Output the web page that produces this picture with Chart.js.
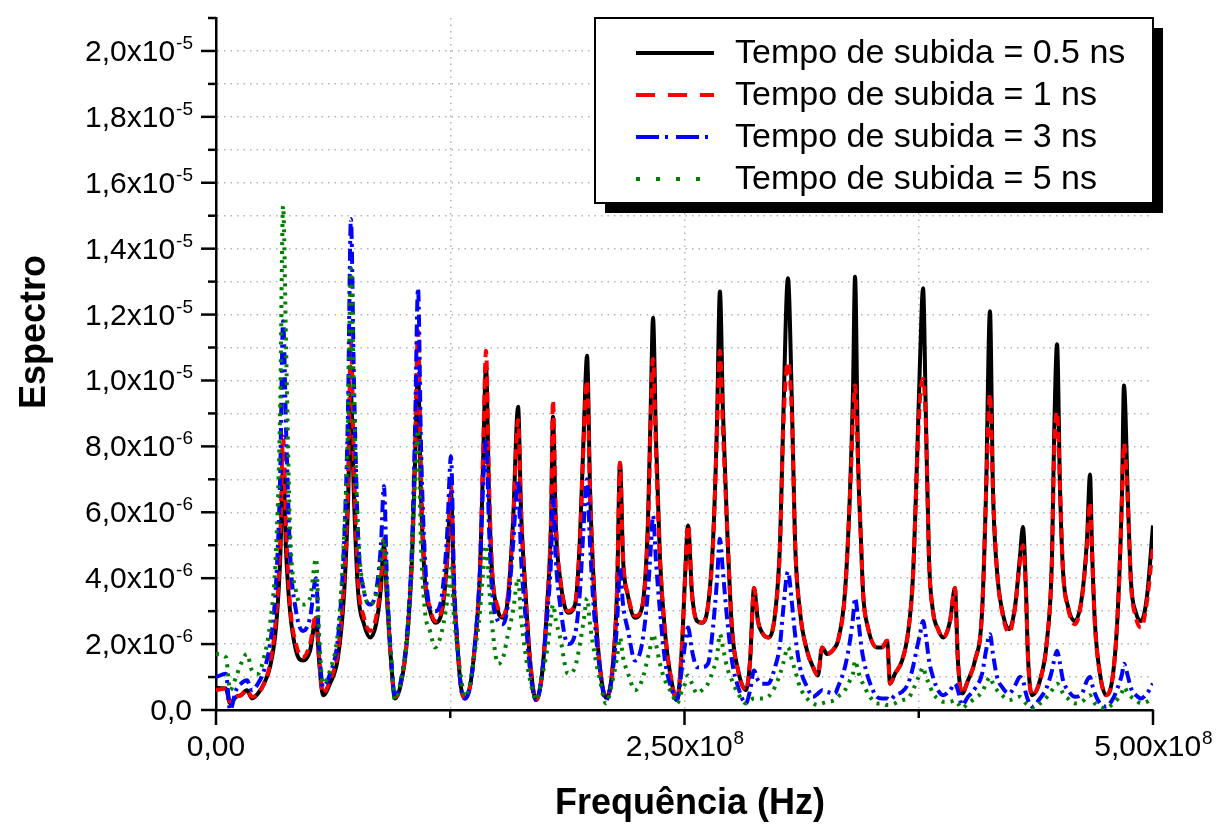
<!DOCTYPE html>
<html>
<head>
<meta charset="utf-8">
<script src="https://cdn.jsdelivr.net/npm/chart.js@4.4.1/dist/chart.umd.min.js"></script>
<style>
  html, body { margin: 0; padding: 0; background: #fff; }
</style>
</head>
<body>
<canvas id="spectrum" width="1218" height="827"></canvas>
<script>
// frequency in MHz, spectrum values in units of 1e-6
var freqMHz = [
  0, 5.3, 7.5, 10.7, 13.3, 16.5, 19.2, 22.4, 25.6, 28.8,
  32.0, 34.2, 35.8, 37.4, 39.5, 42.7, 46.4, 50.2, 53.4, 55.0,
  57.1, 60.8, 65.1, 68.3, 70.4, 72.0, 73.6, 75.8, 79.0, 82.2,
  85.4, 88.0, 89.6, 91.2, 93.4, 95.5, 98.7, 101.9, 104.6, 106.2,
  107.8, 109.4, 111.5, 114.2, 116.9, 120.6, 123.3, 125.4, 127.0, 128.6,
  130.7, 132.9, 135.5, 138.2, 140.9, 142.5, 144.1, 145.7, 147.3, 150.5,
  153.2, 155.8, 158.5, 161.2, 162.8, 164.9, 167.6, 170.8, 174.0, 176.6,
  178.8, 179.8, 181.4, 183.6, 187.8, 191.6, 194.2, 196.4, 198.0, 199.6,
  201.7, 204.9, 208.1, 211.3, 214.0, 215.6, 217.2, 219.9, 223.6, 227.3,
  230.5, 232.1, 233.2, 234.8, 236.9, 239.6, 243.3, 246.0, 248.7, 250.3,
  251.9, 254.0, 256.7, 259.3, 262.5, 265.2, 267.3, 268.9, 270.5, 272.7,
  275.3, 278.6, 282.8, 285.0, 287.1, 289.2, 291.4, 294.6, 298.3, 301.0,
  302.6, 305.2, 307.4, 309.0, 311.6, 315.4, 318.6, 321.2, 323.4, 326.0,
  330.3, 331.9, 335.6, 338.3, 339.9, 341.0, 342.6, 344.2, 345.3, 347.9,
  352.7, 355.4, 358.1, 359.7, 362.3, 366.1, 369.3, 371.9, 374.1, 375.7,
  377.3, 378.9, 380.5, 382.6, 385.3, 388.0, 391.7, 394.3, 395.9, 398.1,
  401.3, 405.0, 408.8, 410.9, 413.0, 414.6, 416.8, 419.4, 423.2, 426.4,
  429.0, 430.6, 432.2, 433.3, 435.4, 439.7, 443.4, 446.1, 447.2, 448.8,
  450.4, 452.0, 454.6, 458.4, 462.1, 464.8, 466.4, 467.4, 469.0, 471.7,
  474.9, 478.7, 481.3, 483.5, 484.5, 486.7, 488.3, 490.9, 493.6, 496.8,
  500.0
];

var rise05 = [
  0.67, 0.65, 0.2, 0.4, 0.45, 0.6, 0.35, 0.5, 0.8, 1.3,
  2.5, 4.5, 7.3, 4.8, 3.0, 1.8, 1.5, 1.8, 2.8, 1.5,
  0.45, 0.8, 1.6, 3.5, 6.2, 9.6, 6.5, 3.6, 2.6, 2.2,
  2.6, 3.7, 5.0, 3.4, 1.5, 0.35, 0.8, 2.1, 4.6, 7.5,
  10.2, 6.5, 3.9, 3.0, 2.65, 3.0, 4.5, 6.6, 3.6, 2.1,
  0.7, 0.35, 0.7, 2.0, 4.2, 7.5, 10.4, 6.5, 4.2, 3.0,
  2.8, 3.4, 5.7, 9.2, 6.0, 3.8, 1.5, 0.3, 1.1, 3.1,
  5.7, 8.9, 5.5, 4.0, 2.95, 3.2, 5.2, 8.7, 10.75, 6.7,
  3.7, 1.3, 0.37, 1.1, 3.6, 7.5, 4.6, 3.45, 2.8, 3.1,
  5.7, 9.5, 11.9, 8.2, 4.6, 2.35, 0.8, 0.3, 2.0, 4.05,
  5.6, 3.55, 2.7, 2.65, 3.15, 5.1, 8.6, 12.7, 9.1, 5.6,
  2.5, 1.2, 0.6, 1.5, 3.7, 2.7, 2.35, 2.2, 2.9, 5.1,
  8.6, 13.1, 9.1, 5.1, 3.0, 1.8, 1.3, 1.05, 1.9, 1.7,
  1.9, 2.1, 3.55, 6.6, 9.65, 13.15, 7.6, 5.1, 3.55, 2.5,
  1.9, 1.9, 2.1, 0.8, 1.1, 1.5, 2.35, 4.05, 7.6, 10.65,
  12.8, 8.6, 4.55, 3.0, 2.45, 2.2, 2.7, 3.7, 1.5, 0.5,
  0.9, 1.5, 3.0, 6.6, 12.1, 6.7, 4.2, 3.05, 2.45, 3.15,
  4.65, 5.55, 3.65, 1.6, 0.45, 0.9, 2.1, 4.65, 8.2, 11.1,
  6.7, 4.2, 3.15, 2.7, 3.45, 5.2, 7.15, 5.0, 2.65, 1.1,
  0.45, 1.1, 3.1, 6.7, 9.85, 6.2, 3.85, 2.95, 2.7, 3.45,
  5.6
];

var rise1 = [
  0.6, 0.65, 0.25, 0.4, 0.45, 0.6, 0.4, 0.5, 0.8, 1.4,
  2.8, 5.0, 8.3, 5.5, 3.2, 2.0, 1.6, 2.0, 2.9, 1.6,
  0.5, 0.9, 1.8, 3.9, 6.8, 11.2, 7.5, 4.0, 2.8, 2.4,
  2.8, 3.9, 5.2, 3.5, 1.5, 0.4, 0.85, 2.2, 4.8, 8.0,
  11.5, 7.2, 4.1, 3.1, 2.7, 3.1, 4.6, 6.8, 3.7, 2.2,
  0.7, 0.35, 0.7, 2.0, 4.3, 7.8, 10.9, 6.9, 4.3, 3.1,
  2.85, 3.5, 5.6, 8.8, 6.0, 3.8, 1.5, 0.3, 1.1, 3.1,
  5.9, 9.4, 5.7, 4.0, 3.0, 3.2, 5.1, 8.5, 10.0, 6.6,
  3.7, 1.3, 0.4, 1.1, 3.6, 7.5, 4.6, 3.5, 2.85, 3.1,
  5.5, 9.0, 10.65, 7.8, 4.6, 2.4, 0.8, 0.3, 2.0, 4.0,
  5.6, 3.5, 2.7, 2.65, 3.15, 5.0, 8.4, 10.9, 8.5, 5.6,
  2.5, 1.2, 0.6, 1.5, 3.7, 2.7, 2.35, 2.2, 2.9, 5.0,
  8.4, 10.55, 8.8, 5.1, 3.0, 1.8, 1.3, 1.05, 1.9, 1.7,
  1.9, 2.1, 3.5, 6.5, 8.8, 9.85, 7.5, 5.1, 3.55, 2.5,
  1.9, 1.9, 2.1, 0.8, 1.1, 1.5, 2.35, 4.0, 7.5, 9.5,
  10.05, 8.5, 4.5, 3.0, 2.45, 2.2, 2.7, 3.7, 1.5, 0.5,
  0.9, 1.5, 3.0, 6.5, 9.6, 6.7, 4.2, 3.0, 2.35, 3.1,
  4.5, 5.0, 3.6, 1.6, 0.45, 0.9, 2.1, 4.6, 7.8, 9.05,
  6.7, 4.2, 3.1, 2.6, 3.4, 5.0, 6.3, 4.9, 2.6, 1.1,
  0.45, 1.1, 3.1, 6.5, 8.1, 6.1, 3.8, 2.8, 2.5, 3.3,
  5.0
];

var rise3 = [
  1.0, 1.1, 0.0, 0.6, 0.8, 0.9, 0.6, 0.8, 1.2, 2.0,
  3.8, 7.0, 11.8, 8.5, 4.8, 3.0, 2.4, 2.8, 4.0, 2.0,
  0.7, 1.1, 2.2, 5.0, 9.0, 14.9, 10.0, 5.3, 3.6, 3.2,
  3.6, 5.0, 6.8, 4.0, 1.6, 0.4, 0.9, 2.3, 5.0, 8.5,
  12.8, 8.0, 4.6, 3.1, 3.0, 3.5, 5.3, 7.7, 4.0, 2.2,
  0.7, 0.35, 0.7, 2.0, 4.3, 6.8, 8.2, 5.5, 3.6, 2.7,
  2.6, 3.2, 5.0, 7.0, 4.6, 3.0, 1.2, 0.3, 1.1, 2.8,
  4.6, 6.5, 4.5, 3.2, 2.0, 2.3, 3.6, 5.8, 7.0, 5.0,
  3.0, 1.2, 0.3, 1.0, 2.6, 4.3, 3.2, 2.4, 1.5, 2.0,
  3.6, 5.0, 5.9, 4.5, 3.0, 1.5, 0.6, 0.3, 1.3, 2.0,
  2.5, 1.8, 1.3, 1.3, 1.4, 2.5, 3.9, 5.2, 4.2, 2.8,
  1.5, 0.7, 0.2, 0.6, 1.2, 0.9, 0.8, 0.8, 1.3, 2.0,
  3.0, 4.2, 3.2, 2.3, 1.3, 0.7, 0.4, 0.5, 0.6, 0.55,
  0.5, 0.7, 1.3, 2.1, 2.8, 3.4, 2.8, 2.0, 1.6, 1.0,
  0.4, 0.35, 0.35, 0.3, 0.45, 0.55, 0.8, 1.3, 1.9, 2.3,
  2.7, 2.2, 1.5, 1.0, 0.6, 0.45, 0.6, 0.8, 0.6, 0.15,
  0.4, 0.65, 1.1, 1.8, 2.3, 1.7, 1.0, 0.7, 0.5, 0.75,
  1.0, 0.9, 0.5, 0.3, 0.1, 0.35, 0.7, 1.2, 1.5, 1.8,
  1.4, 0.9, 0.6, 0.4, 0.5, 0.9, 1.0, 0.8, 0.5, 0.2,
  0.1, 0.35, 0.7, 1.1, 1.4, 1.0, 0.65, 0.45, 0.35, 0.5,
  0.8
];

var rise5 = [
  1.7, 1.6, 0.6, 1.0, 1.4, 1.7, 1.2, 1.1, 1.6, 2.6,
  4.8, 9.0, 15.3, 11.0, 5.5, 3.6, 3.2, 3.4, 4.6, 2.3,
  0.8, 1.2, 2.4, 5.2, 8.5, 13.4, 9.5, 5.4, 3.6, 3.2,
  3.5, 4.5, 5.2, 3.6, 1.6, 0.3, 0.9, 2.1, 4.5, 7.0,
  8.5, 5.0, 3.0, 2.4, 1.9, 2.4, 3.3, 4.3, 2.8, 2.0,
  1.0, 0.4, 0.8, 1.8, 3.0, 4.2, 5.0, 3.8, 2.6, 1.4,
  1.6, 2.3, 3.0, 4.0, 2.8, 1.8, 0.9, 0.3, 1.0, 1.8,
  2.8, 3.2, 2.7, 2.2, 1.1, 1.3, 2.0, 2.8, 3.4, 2.6,
  1.8, 0.9, 0.2, 0.8, 1.6, 2.2, 1.6, 1.1, 0.6, 0.9,
  1.6, 2.0, 2.3, 2.0, 1.4, 0.9, 0.5, 0.2, 0.6, 0.8,
  1.05, 0.8, 0.5, 0.6, 0.8, 1.2, 1.6, 2.3, 1.9, 1.3,
  0.9, 0.5, 0.2, 0.3, 0.35, 0.35, 0.35, 0.4, 0.7, 1.1,
  1.4, 1.9, 1.5, 1.2, 0.7, 0.35, 0.2, 0.15, 0.2, 0.25,
  0.3, 0.4, 0.6, 0.9, 1.1, 1.5, 1.2, 0.9, 0.8, 0.5,
  0.2, 0.2, 0.15, 0.15, 0.2, 0.3, 0.35, 0.6, 0.9, 1.1,
  1.3, 1.0, 0.8, 0.5, 0.35, 0.25, 0.25, 0.3, 0.2, 0.05,
  0.2, 0.35, 0.55, 0.8, 1.0, 0.8, 0.6, 0.45, 0.3, 0.35,
  0.4, 0.3, 0.2, 0.15, 0.05, 0.2, 0.4, 0.6, 0.7, 0.8,
  0.7, 0.5, 0.35, 0.2, 0.25, 0.4, 0.45, 0.35, 0.2, 0.1,
  0.05, 0.2, 0.35, 0.55, 0.7, 0.5, 0.4, 0.3, 0.2, 0.25,
  0.35
];

var seriesNames = [
  "Tempo de subida = 0.5 ns",
  "Tempo de subida = 1 ns",
  "Tempo de subida = 3 ns",
  "Tempo de subida = 5 ns"
];

var xTicksMHz = [0, 125, 250, 375, 500];
var yMaxMicro = 21;

var FONT = "'Liberation Sans', Arial, sans-serif";

function toPoints(vals) {
  var pts = [];
  for (var i = 0; i < freqMHz.length; i++) {
    pts.push({ x: freqMHz[i], y: vals[i] });
  }
  return pts;
}

function lineSet(label, vals, color, dash, width, order) {
  return {
    label: label,
    data: toPoints(vals),
    borderColor: color,
    borderWidth: width,
    borderDash: dash,
    borderCapStyle: "butt",
    borderJoinStyle: "round",
    cubicInterpolationMode: "monotone",
    pointRadius: 0,
    fill: false,
    order: order,
  };
}

// draws text with a raised exponent, e.g. 2,0x10 + "-5"
function drawSci(ctx, base, exp, x, y, align, size) {
  ctx.font = size + "px " + FONT;
  var wb = ctx.measureText(base).width;
  var es = Math.round(size * 0.63);
  ctx.font = es + "px " + FONT;
  var we = exp ? ctx.measureText(exp).width : 0;
  var total = wb + we;
  var x0 = x;
  if (align === "right") x0 = x - total;
  if (align === "center") x0 = x - total / 2;
  ctx.textAlign = "left";
  ctx.textBaseline = "alphabetic";
  ctx.fillStyle = "#000";
  ctx.font = size + "px " + FONT;
  ctx.fillText(base, x0, y);
  if (exp) {
    ctx.font = es + "px " + FONT;
    ctx.fillText(exp, x0 + wb + 1, y - size * 0.4);
  }
}

function yLabel(v) {
  if (v === 0) return ["0,0", ""];
  if (v >= 10) return [(v / 10).toFixed(1).replace(".", ",") + "x10", "-5"];
  return [v.toFixed(1).replace(".", ",") + "x10", "-6"];
}

function xLabel(v) {
  if (v === 0) return ["0,00", ""];
  return [(v / 100).toFixed(2).replace(".", ",") + "x10", "8"];
}

var decor = {
  id: "decor",
  afterDraw: function (chart) {
    var ctx = chart.ctx;
    var area = chart.chartArea;
    var xs = chart.scales.x;
    var ys = chart.scales.y;
    ctx.save();
    ctx.strokeStyle = "#000";
    ctx.lineWidth = 2.5;

    // y ticks and labels
    for (var v = 0; v <= yMaxMicro; v++) {
      var py = ys.getPixelForValue(v);
      var major = v % 2 === 0 && v <= 20;
      var len = major ? 15 : 8;
      ctx.beginPath();
      ctx.moveTo(area.left - len, py);
      ctx.lineTo(area.left, py);
      ctx.stroke();
      if (major) {
        var lb = yLabel(v);
        drawSci(ctx, lb[0], lb[1], area.left - 24, py + 10, "right", 30);
      }
    }

    // x ticks and labels
    for (var i = 0; i < xTicksMHz.length; i++) {
      var f = xTicksMHz[i];
      var px = xs.getPixelForValue(f);
      var xmaj = f % 250 === 0;
      var xlen = xmaj ? 15 : 8;
      ctx.beginPath();
      ctx.moveTo(px, area.bottom);
      ctx.lineTo(px, area.bottom + xlen);
      ctx.stroke();
      if (xmaj) {
        var xl = xLabel(f);
        drawSci(ctx, xl[0], xl[1], px, area.bottom + 46, "center", 30);
      }
    }

    // axis titles
    ctx.fillStyle = "#000";
    ctx.font = "bold 36px " + FONT;
    ctx.textAlign = "center";
    ctx.textBaseline = "middle";
    ctx.fillText("Frequência (Hz)", 690, 804);
    ctx.save();
    ctx.translate(35, 332);
    ctx.rotate(-Math.PI / 2);
    ctx.fillText("Espectro", 0, 0);
    ctx.restore();

    // legend box with shadow
    var bx = 595, by = 18, bw = 558, bh = 185;
    ctx.fillStyle = "#000";
    ctx.fillRect(bx + 10, by + 10, bw, bh);
    ctx.fillStyle = "#fff";
    ctx.fillRect(bx, by, bw, bh);
    ctx.lineWidth = 2;
    ctx.strokeStyle = "#000";
    ctx.strokeRect(bx, by, bw, bh);

    var legendDash = [[], [19, 13], [23, 6, 3, 8], [4, 16]];
    var sets = chart.data.datasets;
    ctx.font = "34px " + FONT;
    ctx.textAlign = "left";
    ctx.textBaseline = "middle";
    for (var k = 0; k < sets.length; k++) {
      var ry = 53 + k * 42;
      ctx.beginPath();
      ctx.setLineDash(legendDash[k]);
      ctx.strokeStyle = sets[k].borderColor;
      ctx.lineWidth = 4;
      ctx.moveTo(636, ry);
      ctx.lineTo(714, ry);
      ctx.stroke();
      ctx.setLineDash([]);
      ctx.fillStyle = "#000";
      ctx.fillText(sets[k].label, 735, ry + 1);
    }
    ctx.restore();
  },
};

new Chart(document.getElementById("spectrum"), {
  type: "line",
  data: {
    datasets: [
      lineSet(seriesNames[0], rise05, "#000000", [], 4, 4),
      lineSet(seriesNames[1], rise1, "#ff0000", [10, 6], 4, 3),
      lineSet(seriesNames[2], rise3, "#0000ff", [12, 5, 3, 5], 4, 2),
      lineSet(seriesNames[3], rise5, "#008000", [3, 6], 4, 1),
    ],
  },
  options: {
    responsive: false,
    animation: false,
    devicePixelRatio: 1,
    layout: { padding: { left: 216, right: 65, top: 18, bottom: 117 } },
    plugins: { legend: { display: false }, tooltip: { enabled: false } },
    scales: {
      x: {
        type: "linear",
        min: 0,
        max: 500,
        ticks: { display: false, stepSize: 125 },
        grid: {
          drawTicks: false,
          lineWidth: 1.5,
          color: function (c) {
            var v = c.tick ? c.tick.value : 0;
            return v === 0 || v === 500 ? "rgba(0,0,0,0)" : "#b4b4b4";
          },
        },
        border: { display: true, color: "#000", width: 2.5, dash: [1.5, 5] },
      },
      y: {
        type: "linear",
        min: 0,
        max: yMaxMicro,
        ticks: { display: false, stepSize: 1 },
        grid: {
          drawTicks: false,
          lineWidth: 1.5,
          color: function (c) {
            var v = c.tick ? c.tick.value : 0;
            return v === 0 || v >= yMaxMicro ? "rgba(0,0,0,0)" : "#b4b4b4";
          },
        },
        border: { display: true, color: "#000", width: 2.5, dash: [1.5, 5] },
      },
    },
  },
  plugins: [decor],
});
</script>
</body>
</html>
